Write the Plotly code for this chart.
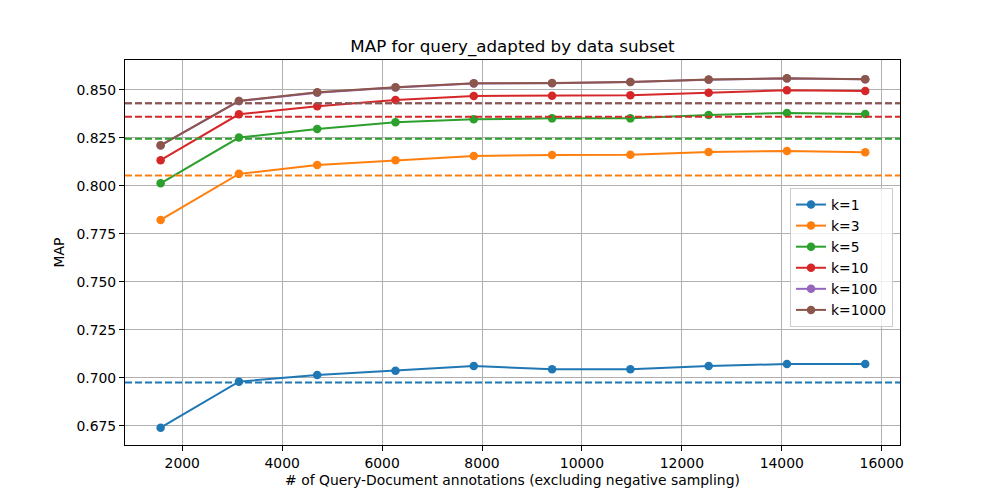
import plotly.graph_objects as go

x_vals = [1567, 3134, 4701, 6268, 7835, 9402, 10969, 12536, 14103, 15670]
series_names = ["k=1", "k=3", "k=5", "k=10", "k=100", "k=1000"]
k1 = [0.6741, 0.6981, 0.7016, 0.7038, 0.7062, 0.7045, 0.7045, 0.7062, 0.7073, 0.7073]
k3 = [0.7823, 0.8063, 0.8109, 0.8134, 0.8156, 0.8161, 0.8162, 0.8177, 0.8182, 0.8175]
k5 = [0.8014, 0.8252, 0.8297, 0.8332, 0.8347, 0.8352, 0.8352, 0.8370, 0.8380, 0.8375]
k10 = [0.8134, 0.8373, 0.8415, 0.8448, 0.8469, 0.8470, 0.8473, 0.8486, 0.8498, 0.8494]
k100 = [0.8211, 0.8442, 0.8486, 0.8513, 0.8534, 0.8535, 0.8541, 0.8553, 0.8560, 0.8556]
k1000 = [0.8212, 0.8443, 0.8488, 0.8514, 0.8535, 0.8536, 0.8542, 0.8554, 0.8561, 0.8556]
baselines = [0.6977, 0.8054, 0.8246, 0.8361, 0.8431, 0.8431]
colors = ["#1f77b4", "#ff7f0e", "#2ca02c", "#d62728", "#9467bd", "#8c564b"]
y_ticks = [0.675, 0.700, 0.725, 0.750, 0.775, 0.800, 0.825, 0.850]
x_ticks = [2000, 4000, 6000, 8000, 10000, 12000, 14000, 16000]

all_series = [k1, k3, k5, k10, k100, k1000]

fig = go.Figure()
for name, ys, c, base in zip(series_names, all_series, colors, baselines):
    fig.add_trace(go.Scatter(x=x_vals, y=ys, mode="lines+markers", name=name,
                             line=dict(color=c, width=2),
                             marker=dict(color=c, size=8.5)))
    fig.add_shape(type="line", xref="x domain", x0=0, x1=1, yref="y", y0=base, y1=base,
                  line=dict(color=c, width=2, dash="7px,3px"), layer="above")

font = "DejaVu Sans"
fig.update_layout(
    width=1000, height=500,
    margin=dict(l=117, r=108, t=52, b=63),
    paper_bgcolor="white", plot_bgcolor="white",
    font=dict(family=font, size=13.9, color="black"),
    title=dict(text="MAP for query_adapted by data subset", x=0.5, xref="paper", xanchor="center",
               y=0.924, yref="container", yanchor="middle", font=dict(size=16.7, family=font)),
    showlegend=True,
    legend=dict(x=0.991, xanchor="right", y=0.6675, yanchor="top",
                bgcolor="rgba(255,255,255,0.8)", bordercolor="#cccccc", borderwidth=1,
                font=dict(size=13.9, family=font), tracegroupgap=0),
)
fig.update_xaxes(range=[854, 16366], tickvals=x_ticks, ticktext=[str(t) for t in x_ticks],
                 showgrid=True, gridcolor="#b0b0b0", gridwidth=1,
                 showline=True, linecolor="black", linewidth=1, mirror=True,
                 ticks="outside", ticklen=5, tickcolor="black", zeroline=False,
                 title=dict(text="# of Query-Document annotations (excluding negative sampling)",
                            font=dict(size=13.9), standoff=5))
fig.update_yaxes(range=[0.6651, 0.8656], tickvals=y_ticks, ticktext=["%.3f" % t for t in y_ticks],
                 showgrid=True, gridcolor="#b0b0b0", gridwidth=1,
                 showline=True, linecolor="black", linewidth=1, mirror=True,
                 ticks="outside", ticklen=5, tickcolor="black", zeroline=False,
                 title=dict(text="MAP", font=dict(size=13.9), standoff=8))

fig.write_html("out.html")
